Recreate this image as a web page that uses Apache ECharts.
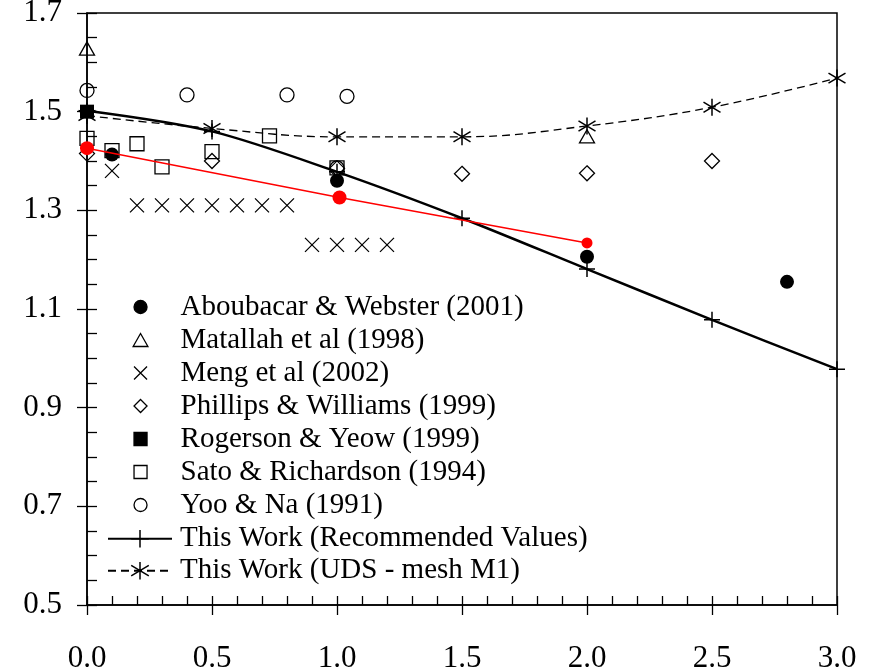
<!DOCTYPE html>
<html>
<head>
<meta charset="utf-8">
<script src="https://cdn.jsdelivr.net/npm/echarts@6/dist/echarts.min.js"></script>
<style>
  html, body { margin: 0; padding: 0; background: #fff; }
  #chart { width: 870px; height: 669px; }
</style>
</head>
<body>
<div id="chart"></div>
<script>
// Axis ranges and tick steps
const xRange = [0, 3];
const yRange = [0.5, 1.7];
const xStep = 0.5;
const yStep = 0.2;

// Literature data [x, y]
const aboubacar = [[0.1, 1.413], [1.0, 1.360], [2.0, 1.206], [2.8, 1.155]];
const matallah = [[0, 1.628], [2.0, 1.450]];
const meng = [[0.1, 1.380], [0.2, 1.310], [0.3, 1.310], [0.4, 1.310], [0.5, 1.310], [0.6, 1.310],
              [0.7, 1.310], [0.8, 1.310], [0.9, 1.230], [1.0, 1.230], [1.1, 1.230], [1.2, 1.230]];
const phillips = [[0, 1.415], [0.5, 1.400], [1.0, 1.385], [1.5, 1.374], [2.0, 1.375], [2.5, 1.400]];
const rogerson = [[0, 1.500]];
const sato = [[0, 1.446], [0.1, 1.421], [0.2, 1.435], [0.3, 1.388], [0.5, 1.419], [0.73, 1.451], [1.0, 1.386]];
const yoo = [[0, 1.543], [0.4, 1.534], [0.8, 1.534], [1.04, 1.531], [1.0, 1.386]];

// Present results
const recommended = [[0, 1.502], [0.5, 1.460], [1.0, 1.378], [1.5, 1.284], [2.0, 1.181], [2.5, 1.078], [3.0, 0.978]];
const udsM1 = [[0, 1.492], [0.5, 1.466], [1.0, 1.449], [1.5, 1.449], [2.0, 1.471], [2.5, 1.509], [3.0, 1.568]];
const redSeries = [[0, 1.426], [1.01, 1.326], [2.0, 1.234]];

const names = {
  aboubacar: 'Aboubacar & Webster (2001)',
  matallah: 'Matallah et al (1998)',
  meng: 'Meng et al (2002)',
  phillips: 'Phillips & Williams (1999)',
  rogerson: 'Rogerson & Yeow (1999)',
  sato: 'Sato & Richardson (1994)',
  yoo: 'Yoo & Na (1991)',
  rec: 'This Work (Recommended Values)',
  uds: 'This Work (UDS - mesh M1)'
};

const SERIF = 'Liberation Serif, Times New Roman, serif';
// Marker outlines as paths so they keep a square aspect in the legend too
const PLUS = 'path://M5,0L5,10M0,5L10,5';
const CROSS = 'path://M0,0L10,10M10,0L0,10';
const STAR = 'path://M5,0L5,10M0,2L10,8M0,8L10,2';
const TRIANGLE = 'path://M5,0.6L10,9.4L0,9.4Z';
const DIAMOND = 'path://M5,0L10,5L5,10L0,5Z';
const SQUARE = 'path://M0,0L10,0L10,10L0,10Z';

const hollow = { color: 'rgba(0,0,0,0)', borderColor: '#000', borderWidth: 1.3, opacity: 1 };
const solid = { color: '#000', borderColor: '#000', borderWidth: 0, opacity: 1 };

function scatter(name, data, symbol, size, style) {
  return { type: 'scatter', name, data, symbol, symbolSize: size, symbolKeepAspect: true, itemStyle: style, z: 3 };
}

const chart = echarts.init(document.getElementById('chart'));

const axisBase = { lineStyle: { color: '#000', width: 1.5 } };

chart.setOption({
  animation: false,
  backgroundColor: '#fff',
  grid: {
    left: 87, right: 33, top: 13, bottom: 64, outerBoundsMode: 'none', containLabel: false,
    show: true, borderColor: '#000', borderWidth: 1.5, backgroundColor: 'transparent'
  },
  xAxis: [
    {
      type: 'value', min: xRange[0], max: xRange[1], interval: xStep, position: 'bottom',
      axisLine: { show: true, ...axisBase },
      axisTick: { show: true, inside: true, length: 9, lineStyle: { color: '#000', width: 1.3 } },
      minorTick: { show: true, splitNumber: 5, length: 9, lineStyle: { color: '#000', width: 1.3 } },
      splitLine: { show: false },
      axisLabel: { margin: 38, color: '#000', fontFamily: SERIF, fontSize: 31, formatter: v => v.toFixed(1) }
    },
    {
      type: 'value', min: xRange[0], max: xRange[1], interval: xStep, position: 'bottom',
      axisLine: { show: false },
      axisTick: { show: true, inside: false, length: 10, lineStyle: { color: '#000', width: 1.3 } },
      splitLine: { show: false },
      axisLabel: { show: false }
    }
  ],
  yAxis: [
    {
      type: 'value', min: yRange[0], max: yRange[1], interval: yStep, position: 'left',
      axisLine: { show: true, ...axisBase },
      axisTick: { show: true, inside: true, length: 10, lineStyle: { color: '#000', width: 1.3 } },
      minorTick: { show: true, splitNumber: 4, length: 10, lineStyle: { color: '#000', width: 1.3 } },
      splitLine: { show: false },
      axisLabel: { margin: 25, color: '#000', fontFamily: SERIF, fontSize: 31, formatter: v => v.toFixed(1) }
    },
    {
      type: 'value', min: yRange[0], max: yRange[1], interval: yStep, position: 'left',
      axisLine: { show: false },
      axisTick: { show: true, inside: false, length: 10, lineStyle: { color: '#000', width: 1.3 } },
      splitLine: { show: false },
      axisLabel: { show: false }
    }
  ],
  legend: [
    {
      // icons are narrower than itemWidth here, so the box starts at the icon edge
      orient: 'vertical', left: 132.5, top: 290.5, padding: 0, itemGap: 0,
      itemWidth: 64, itemHeight: 13, selectedMode: false, symbolKeepAspect: true,
      itemStyle: { borderWidth: 1.3, opacity: 1 },
      textStyle: { fontFamily: SERIF, fontSize: 29, color: '#000', lineHeight: 33, padding: [0, 0, 0, 3] },
      data: [names.aboubacar, names.matallah, names.meng, names.phillips, names.rogerson, names.sato, names.yoo]
    },
    {
      orient: 'vertical', left: 107, top: 522.7, padding: 0, itemGap: 0,
      itemWidth: 64, itemHeight: 22, selectedMode: false,
      itemStyle: { borderWidth: 1.5 },
      textStyle: { fontFamily: SERIF, fontSize: 29, color: '#000', lineHeight: 32, padding: [0, 0, 0, 3] },
      data: [names.rec, names.uds]
    }
  ],
  series: [
    {
      type: 'line', name: names.rec, data: recommended, smooth: 0.3,
      symbol: PLUS, symbolSize: 16, showAllSymbol: true,
      lineStyle: { color: '#000', width: 2.5 },
      itemStyle: { color: '#000', borderColor: '#000', borderWidth: 1.5 },
      z: 2
    },
    {
      type: 'line', name: names.uds, data: udsM1, smooth: 0.4,
      symbol: STAR, symbolSize: 17, showAllSymbol: true,
      lineStyle: { color: '#000', width: 1.3, type: [8, 5] },
      itemStyle: { color: '#000', borderColor: '#000', borderWidth: 1.5 },
      z: 2
    },
    scatter(names.aboubacar, aboubacar, 'circle', 14, solid),
    scatter(names.matallah, matallah, TRIANGLE, 15, hollow),
    scatter(names.meng, meng, CROSS, 14, { color: '#000', borderColor: '#000', borderWidth: 1.3, opacity: 1 }),
    scatter(names.phillips, phillips, DIAMOND, 15, hollow),
    scatter(names.rogerson, rogerson, SQUARE, 14, solid),
    scatter(names.sato, sato, SQUARE, 14, hollow),
    scatter(names.yoo, yoo, 'circle', 14, hollow),
    {
      type: 'line', name: 'red', data: redSeries,
      symbol: 'circle', symbolSize: (v, p) => (p.dataIndex === 2 ? 11 : 14), showAllSymbol: true,
      lineStyle: { color: '#ff0000', width: 1.5 },
      itemStyle: { color: '#ff0000', borderWidth: 0 },
      z: 4
    }
  ]
});
</script>
</body>
</html>
